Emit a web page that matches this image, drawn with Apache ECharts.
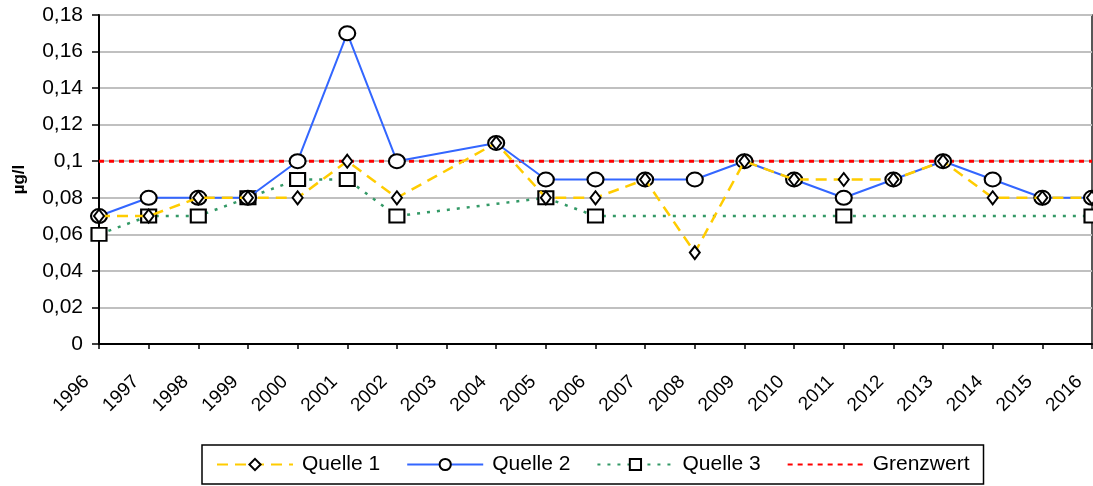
<!DOCTYPE html>
<html style="height: 100%">
<head>
    <meta charset="UTF-8">
    <script type="text/javascript" src="https://cdn.jsdelivr.net/npm/echarts@6/dist/echarts.min.js"></script>
</head>
<body style="height: 100%; margin: 0; background: #fff">
    <div id="container" style="height: 486px; width: 1093px;"></div>
    <script type="text/javascript">
        var years = ['1996', '1997', '1998', '1999', '2000', '2001', '2002', '2003', '2004', '2005', '2006',
                     '2007', '2008', '2009', '2010', '2011', '2012', '2013', '2014', '2015', '2016'];
        var quelle1 = [0.07, 0.07, 0.08, 0.08, 0.08, 0.10, 0.08, null, 0.11, 0.08, 0.08,
                       0.09, 0.05, 0.10, 0.09, 0.09, 0.09, 0.10, 0.08, 0.08, 0.08];
        var quelle2 = [0.07, 0.08, 0.08, 0.08, 0.10, 0.17, 0.10, null, 0.11, 0.09, 0.09,
                       0.09, 0.09, 0.10, 0.09, 0.08, 0.09, 0.10, 0.09, 0.08, 0.08];
        var quelle3 = [0.06, 0.07, 0.07, 0.08, 0.09, 0.09, 0.07, null, null, 0.08, 0.07,
                       null, null, null, null, 0.07, null, null, null, null, 0.07];
        var grenzwert = [0.1, 0.1, 0.1, 0.1, 0.1, 0.1, 0.1, 0.1, 0.1, 0.1, 0.1,
                         0.1, 0.1, 0.1, 0.1, 0.1, 0.1, 0.1, 0.1, 0.1, 0.1];

        var font = 'Liberation Sans, Arial, sans-serif';
        var markerStyle = { color: '#fff', borderColor: '#000', borderWidth: 2 };

        var myChart = echarts.init(document.getElementById('container'));
        var option = {
            animation: false,
            backgroundColor: '#fff',
            grid: {
                left: 99, right: 1, top: 15, bottom: 142,
                outerBoundsMode: 'none',
                containLabel: false,
                show: true, borderColor: '#222', borderWidth: 1.5
            },
            legend: {
                bottom: 2,
                left: 202,
                borderColor: '#000',
                borderWidth: 1.5,
                padding: [9, 14, 9, 14],
                itemGap: 26,
                itemWidth: 76,
                itemHeight: 14,
                textStyle: { fontFamily: font, fontSize: 21, color: '#000', padding: [0, 0, 0, 4] },
                data: ['Quelle 1', 'Quelle 2', 'Quelle 3', { name: 'Grenzwert', itemStyle: { opacity: 0 } }]
            },
            xAxis: {
                type: 'category',
                data: years,
                boundaryGap: false,
                axisLine: { lineStyle: { color: '#000', width: 2 } },
                axisTick: { show: true, length: 5, lineStyle: { color: '#000', width: 1.5 } },
                axisLabel: {
                    rotate: 45, interval: 0, margin: 22, padding: [0, 18, 0, 0],
                    fontFamily: font, fontSize: 19, color: '#000'
                },
                splitLine: { show: false }
            },
            yAxis: {
                type: 'value',
                min: 0, max: 0.18, interval: 0.02,
                name: 'µg/l',
                nameLocation: 'middle',
                nameGap: 71,
                nameTextStyle: { fontFamily: font, fontSize: 17, fontWeight: 'bold', color: '#000' },
                axisLine: { show: true, lineStyle: { color: '#000', width: 2 } },
                axisTick: { show: true, length: 7, lineStyle: { color: '#000', width: 1.5 } },
                axisLabel: {
                    fontFamily: font, fontSize: 21, color: '#000', margin: 16,
                    formatter: function (v) {
                        return String(parseFloat(v.toFixed(2))).replace('.', ',');
                    }
                },
                splitLine: { lineStyle: { color: '#c0c0c0', width: 2 } }
            },
            series: [
                {
                    name: 'Grenzwert', type: 'line', data: grenzwert,
                    symbol: 'none', z: 2,
                    lineStyle: { color: '#ff0000', width: 3, type: [5, 5] },
                    itemStyle: { color: '#ff0000' }
                },
                {
                    name: 'Quelle 3', type: 'line', data: quelle3, connectNulls: true,
                    symbol: 'rect', symbolSize: [15, 13], z: 3,
                    lineStyle: { color: '#339966', width: 2.5, type: [3, 7] },
                    itemStyle: markerStyle
                },
                {
                    name: 'Quelle 2', type: 'line', data: quelle2, connectNulls: true,
                    symbol: 'circle', symbolSize: [16, 14], z: 4,
                    lineStyle: { color: '#3366ff', width: 2 },
                    itemStyle: markerStyle
                },
                {
                    name: 'Quelle 1', type: 'line', data: quelle1, connectNulls: true,
                    symbol: 'diamond', symbolSize: [10, 13], z: 5,
                    lineStyle: { color: '#ffcc00', width: 2.5, type: [11, 7] },
                    itemStyle: markerStyle
                }
            ]
        };
        myChart.setOption(option, true);
        window.onresize = function () {
            myChart.resize();
        };
    </script>
</body>
</html>
